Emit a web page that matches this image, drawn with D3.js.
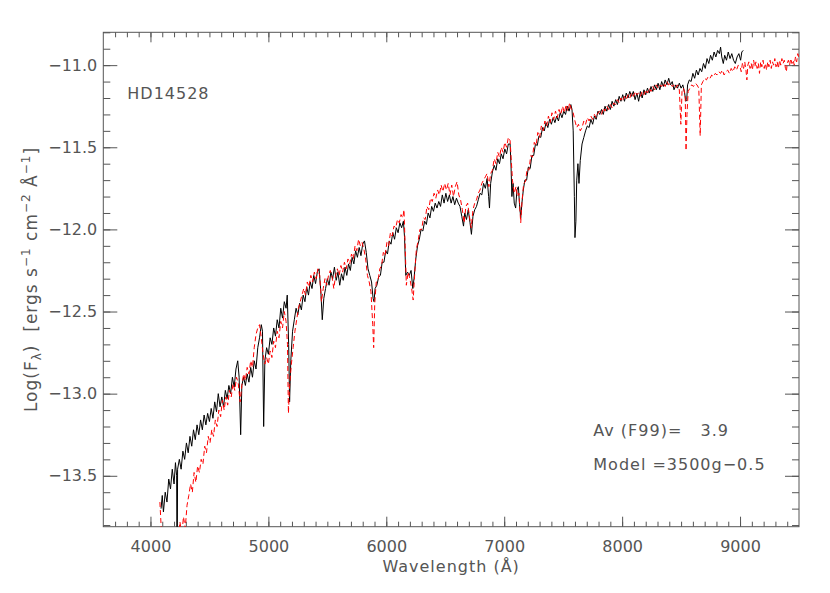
<!DOCTYPE html>
<html>
<head>
<meta charset="utf-8">
<script src="https://cdn.jsdelivr.net/npm/d3@7"></script>
<style>
  body { margin: 0; background: #fff; }
  text { font-family: "DejaVu Sans", sans-serif; fill: #555; }
  .axis text { font-size: 16px; fill: #555; }
  .axis line { stroke: #555; }
  .axis path { display: none; }
  .label { font-size: 16px; letter-spacing: 1px; white-space: pre; }
</style>
</head>
<body>
<div id="vis"></div>
<script>
// Observed spectrum of HD14528 (black): [wavelength A, log flux]
var observed = [
  [4090,-13.70],[4100,-13.62],[4110,-13.72],[4125,-13.60],[4140,-13.66],[4155,-13.52],[4170,-13.58],
  [4185,-13.46],[4200,-13.55],[4212,-13.42],[4222,-13.50],[4226,-14.20],[4230,-13.46],[4245,-13.40],
  [4260,-13.46],[4275,-13.35],[4290,-13.40],[4305,-13.30],[4320,-13.36],[4335,-13.26],[4350,-13.32],
  [4365,-13.22],[4380,-13.28],[4395,-13.19],[4410,-13.25],[4425,-13.16],[4440,-13.22],[4455,-13.13],
  [4470,-13.19],[4485,-13.12],[4500,-13.17],[4515,-13.09],[4530,-13.15],[4545,-13.05],[4560,-13.11],
  [4575,-13.00],[4590,-13.08],[4605,-13.02],[4620,-13.08],[4635,-12.98],[4650,-13.03],[4665,-12.95],
  [4680,-13.00],[4695,-12.90],[4710,-12.96],[4725,-12.85],[4740,-12.80],[4752,-12.90],[4765,-13.25],
  [4775,-12.95],[4790,-12.90],[4805,-12.95],[4820,-12.88],[4835,-12.93],[4850,-12.84],[4865,-12.90],
  [4880,-12.80],[4895,-12.85],[4910,-12.72],[4925,-12.66],[4940,-12.58],[4950,-12.62],[4960,-13.20],
  [4970,-12.80],[4985,-12.72],[5000,-12.76],[5015,-12.66],[5030,-12.70],[5045,-12.60],[5060,-12.65],
  [5075,-12.55],[5090,-12.60],[5105,-12.48],[5120,-12.54],[5135,-12.44],[5150,-12.48],[5160,-12.40],
  [5172,-12.70],[5180,-13.05],[5190,-12.80],[5205,-12.62],[5220,-12.55],[5235,-12.48],[5250,-12.52],
  [5265,-12.45],[5280,-12.49],[5295,-12.40],[5310,-12.44],[5325,-12.35],[5340,-12.40],[5355,-12.32],
  [5370,-12.36],[5385,-12.28],[5400,-12.33],[5415,-12.26],[5430,-12.24],[5445,-12.38],[5457,-12.55],
  [5470,-12.42],[5485,-12.36],[5500,-12.30],[5515,-12.34],[5530,-12.26],[5545,-12.30],[5560,-12.23],
  [5575,-12.31],[5590,-12.26],[5605,-12.34],[5620,-12.27],[5635,-12.31],[5650,-12.23],[5665,-12.28],
  [5680,-12.21],[5695,-12.25],[5710,-12.17],[5725,-12.21],[5740,-12.13],[5755,-12.17],[5770,-12.11],
  [5785,-12.16],[5800,-12.09],[5815,-12.07],[5830,-12.14],[5845,-12.24],[5860,-12.28],[5875,-12.32],
  [5888,-12.42],[5896,-12.44],[5905,-12.36],[5920,-12.34],[5935,-12.29],[5950,-12.28],[5965,-12.20],
  [5980,-12.20],[5995,-12.13],[6010,-12.15],[6025,-12.07],[6040,-12.09],[6055,-12.02],[6070,-12.06],
  [6085,-11.99],[6100,-12.02],[6115,-11.96],[6130,-11.99],[6145,-11.95],[6155,-12.05],[6165,-12.28],
  [6180,-12.26],[6195,-12.28],[6210,-12.25],[6225,-12.36],[6235,-12.30],[6250,-12.18],[6265,-12.10],
  [6280,-12.06],[6295,-12.00],[6310,-12.01],[6325,-11.95],[6340,-11.97],[6355,-11.90],[6370,-11.93],
  [6385,-11.86],[6400,-11.89],[6415,-11.84],[6430,-11.87],[6445,-11.83],[6460,-11.86],[6475,-11.79],
  [6490,-11.84],[6505,-11.78],[6520,-11.83],[6535,-11.79],[6550,-11.84],[6565,-11.80],[6580,-11.85],
  [6595,-11.81],[6610,-11.84],[6625,-11.86],[6640,-11.92],[6655,-11.98],[6665,-11.90],[6680,-11.94],
  [6695,-11.88],[6710,-11.96],[6722,-12.03],[6735,-11.92],[6750,-11.88],[6765,-11.86],[6780,-11.82],
  [6795,-11.78],[6810,-11.79],[6825,-11.72],[6840,-11.75],[6855,-11.69],[6868,-11.80],[6875,-11.87],
  [6885,-11.72],[6900,-11.65],[6915,-11.61],[6930,-11.64],[6945,-11.57],[6960,-11.60],[6975,-11.54],
  [6990,-11.57],[7005,-11.51],[7020,-11.54],[7035,-11.48],[7050,-11.48],[7058,-11.62],[7065,-11.80],
  [7075,-11.72],[7085,-11.84],[7097,-11.87],[7108,-11.76],[7120,-11.74],[7130,-11.85],[7140,-11.93],
  [7150,-11.84],[7162,-11.76],[7175,-11.70],[7190,-11.70],[7205,-11.62],[7220,-11.63],[7235,-11.55],
  [7250,-11.55],[7265,-11.48],[7280,-11.49],[7295,-11.43],[7310,-11.44],[7325,-11.38],[7340,-11.40],
  [7355,-11.35],[7370,-11.38],[7385,-11.33],[7400,-11.36],[7415,-11.32],[7430,-11.35],[7445,-11.31],
  [7460,-11.34],[7475,-11.29],[7490,-11.32],[7505,-11.28],[7520,-11.30],[7535,-11.25],[7550,-11.28],
  [7565,-11.24],[7575,-11.27],[7585,-11.40],[7595,-11.80],[7600,-12.05],[7608,-11.95],[7615,-11.70],
  [7625,-11.60],[7634,-11.72],[7645,-11.58],[7660,-11.48],[7675,-11.44],[7690,-11.40],[7705,-11.37],
  [7720,-11.38],[7735,-11.33],[7750,-11.36],[7765,-11.31],[7780,-11.33],[7795,-11.28],[7810,-11.30],
  [7825,-11.27],[7840,-11.30],[7855,-11.25],[7870,-11.28],[7885,-11.24],[7900,-11.27],[7915,-11.22],
  [7930,-11.25],[7945,-11.21],[7960,-11.24],[7975,-11.19],[7990,-11.22],[8005,-11.18],[8020,-11.22],
  [8035,-11.17],[8050,-11.20],[8065,-11.16],[8080,-11.19],[8095,-11.16],[8110,-11.21],[8125,-11.17],
  [8140,-11.22],[8155,-11.16],[8170,-11.20],[8185,-11.15],[8200,-11.18],[8215,-11.14],[8230,-11.17],
  [8245,-11.13],[8260,-11.16],[8275,-11.12],[8290,-11.15],[8305,-11.11],[8320,-11.15],[8335,-11.10],
  [8350,-11.13],[8365,-11.09],[8380,-11.12],[8395,-11.08],[8410,-11.12],[8425,-11.10],[8440,-11.15],
  [8455,-11.12],[8470,-11.14],[8485,-11.11],[8500,-11.14],[8515,-11.12],[8530,-11.17],[8540,-11.22],
  [8548,-11.21],[8555,-11.12],[8570,-11.09],[8585,-11.10],[8600,-11.05],[8615,-11.08],[8630,-11.03],
  [8645,-11.06],[8660,-11.02],[8675,-11.04],[8690,-10.99],[8705,-11.02],[8720,-10.96],[8735,-10.99],
  [8750,-10.94],[8765,-10.97],[8780,-10.92],[8795,-10.95],[8810,-10.91],[8825,-10.93],[8835,-10.89],
  [8845,-10.95],[8858,-10.99],[8870,-10.94],[8885,-10.97],[8900,-10.92],[8915,-10.96],[8930,-10.93],
  [8945,-10.97],[8960,-10.99],[8975,-10.95],[8990,-10.93],[9005,-10.97],[9015,-10.92],[9027,-10.91]
];

// Reddened model 3500g-0.5 (red, dashed): [wavelength A, log flux]
var model = [
  [4080,-13.66],[4090,-13.80],[4100,-13.90],[4115,-13.85],[4130,-13.95],[4150,-13.88],[4170,-14.00],
  [4190,-13.85],[4205,-13.95],[4220,-13.82],[4235,-13.90],[4250,-13.78],[4265,-13.86],[4280,-13.75],
  [4295,-13.82],[4310,-13.68],[4325,-13.62],[4340,-13.55],[4355,-13.60],[4370,-13.48],[4385,-13.54],
  [4400,-13.44],[4415,-13.48],[4430,-13.40],[4445,-13.43],[4460,-13.32],[4475,-13.36],[4490,-13.26],
  [4505,-13.30],[4520,-13.22],[4535,-13.26],[4550,-13.16],[4565,-13.20],[4580,-13.10],[4595,-13.14],
  [4610,-13.04],[4625,-13.10],[4640,-13.02],[4655,-13.07],[4670,-12.98],[4685,-13.02],[4700,-12.94],
  [4715,-12.98],[4730,-12.90],[4745,-12.94],[4760,-13.05],[4775,-12.95],[4790,-12.88],[4805,-12.92],
  [4820,-12.84],[4835,-12.88],[4850,-12.80],[4865,-12.84],[4880,-12.72],[4895,-12.64],[4910,-12.60],
  [4925,-12.58],[4940,-12.66],[4955,-12.76],[4970,-12.82],[4985,-12.78],[5000,-12.82],[5015,-12.74],
  [5030,-12.78],[5045,-12.68],[5060,-12.72],[5075,-12.62],[5090,-12.66],[5105,-12.56],[5120,-12.60],
  [5135,-12.50],[5150,-12.56],[5162,-12.70],[5170,-13.12],[5180,-12.95],[5195,-12.82],[5210,-12.72],
  [5225,-12.62],[5240,-12.55],[5255,-12.48],[5270,-12.44],[5285,-12.40],[5300,-12.36],[5315,-12.40],
  [5330,-12.32],[5345,-12.35],[5360,-12.28],[5375,-12.32],[5390,-12.26],[5405,-12.30],[5420,-12.24],
  [5435,-12.28],[5450,-12.44],[5465,-12.36],[5480,-12.30],[5495,-12.34],[5510,-12.28],[5525,-12.25],
  [5540,-12.29],[5555,-12.36],[5570,-12.28],[5585,-12.24],[5600,-12.28],[5615,-12.22],[5630,-12.26],
  [5645,-12.20],[5660,-12.24],[5675,-12.18],[5690,-12.21],[5705,-12.15],[5720,-12.18],[5735,-12.10],
  [5750,-12.13],[5765,-12.06],[5780,-12.10],[5795,-12.08],[5810,-12.12],[5825,-12.18],[5840,-12.28],
  [5855,-12.32],[5870,-12.38],[5885,-12.58],[5893,-12.72],[5902,-12.45],[5915,-12.32],[5930,-12.31],
  [5945,-12.24],[5960,-12.22],[5975,-12.14],[5990,-12.16],[6005,-12.08],[6020,-12.10],[6035,-12.02],
  [6050,-12.04],[6065,-11.98],[6080,-11.99],[6095,-11.94],[6110,-11.96],[6125,-11.91],[6140,-11.93],
  [6150,-11.88],[6160,-12.10],[6170,-12.34],[6185,-12.26],[6200,-12.30],[6215,-12.36],[6228,-12.43],
  [6240,-12.28],[6255,-12.12],[6270,-12.07],[6285,-12.00],[6300,-12.00],[6315,-11.93],[6330,-11.94],
  [6345,-11.86],[6360,-11.88],[6375,-11.81],[6390,-11.83],[6405,-11.78],[6420,-11.81],[6435,-11.76],
  [6450,-11.79],[6465,-11.73],[6480,-11.77],[6495,-11.72],[6510,-11.76],[6525,-11.72],[6540,-11.79],
  [6555,-11.73],[6570,-11.80],[6585,-11.74],[6600,-11.71],[6615,-11.79],[6630,-11.82],[6645,-11.88],
  [6660,-11.96],[6675,-11.86],[6690,-11.84],[6705,-11.92],[6720,-11.99],[6735,-11.88],[6750,-11.84],
  [6765,-11.82],[6780,-11.78],[6795,-11.76],[6810,-11.72],[6825,-11.70],[6840,-11.68],[6855,-11.66],
  [6870,-11.74],[6885,-11.66],[6900,-11.64],[6915,-11.57],[6930,-11.60],[6945,-11.53],[6960,-11.56],
  [6975,-11.50],[6990,-11.53],[7005,-11.47],[7020,-11.50],[7035,-11.44],[7050,-11.46],[7060,-11.58],
  [7070,-11.70],[7085,-11.78],[7100,-11.74],[7112,-11.80],[7125,-11.78],[7140,-11.96],[7152,-11.82],
  [7165,-11.72],[7180,-11.71],[7195,-11.63],[7210,-11.64],[7225,-11.55],[7240,-11.56],[7255,-11.47],
  [7270,-11.49],[7285,-11.41],[7300,-11.44],[7315,-11.37],[7330,-11.40],[7345,-11.34],[7360,-11.37],
  [7375,-11.31],[7390,-11.35],[7405,-11.29],[7420,-11.33],[7435,-11.28],[7450,-11.32],[7465,-11.27],
  [7480,-11.30],[7495,-11.25],[7510,-11.29],[7525,-11.24],[7540,-11.28],[7555,-11.23],[7570,-11.27],
  [7585,-11.29],[7600,-11.34],[7615,-11.38],[7630,-11.36],[7645,-11.40],[7660,-11.38],[7675,-11.34],
  [7690,-11.36],[7705,-11.32],[7720,-11.34],[7735,-11.31],[7750,-11.33],[7765,-11.30],[7780,-11.32],
  [7795,-11.29],[7810,-11.28],[7825,-11.30],[7840,-11.26],[7855,-11.28],[7870,-11.25],[7885,-11.27],
  [7900,-11.24],[7915,-11.26],[7930,-11.23],[7945,-11.24],[7960,-11.21],[7975,-11.23],[7990,-11.20],
  [8005,-11.22],[8020,-11.19],[8035,-11.21],[8050,-11.18],[8065,-11.20],[8080,-11.17],[8095,-11.19],
  [8110,-11.16],[8125,-11.18],[8140,-11.17],[8155,-11.19],[8170,-11.16],[8185,-11.18],[8200,-11.15],
  [8215,-11.17],[8230,-11.14],[8245,-11.16],[8260,-11.13],[8275,-11.15],[8290,-11.12],[8305,-11.14],
  [8320,-11.12],[8335,-11.13],[8350,-11.11],[8365,-11.13],[8380,-11.10],[8395,-11.12],[8410,-11.11],
  [8425,-11.13],[8440,-11.12],[8455,-11.14],[8470,-11.12],[8485,-11.15],[8498,-11.36],[8508,-11.16],
  [8520,-11.14],[8535,-11.18],[8542,-11.52],[8550,-11.30],[8560,-11.16],[8575,-11.14],[8590,-11.12],
  [8605,-11.13],[8620,-11.11],[8635,-11.12],[8650,-11.14],[8662,-11.43],[8672,-11.12],[8685,-11.10],
  [8700,-11.08],[8715,-11.09],[8730,-11.07],[8745,-11.08],[8760,-11.06],[8775,-11.07],[8790,-11.05],
  [8805,-11.06],[8820,-11.04],[8835,-11.05],[8850,-11.03],[8865,-11.06],[8880,-11.04],[8895,-11.03],
  [8910,-11.05],[8925,-11.02],[8940,-11.04],[8955,-11.01],[8970,-11.03],[8985,-11.00],[9000,-11.01],
  [9010,-11.04],[9020,-10.99],[9030,-11.02],[9040,-10.98],[9050,-11.03],[9058,-11.09],[9066,-11.00],
  [9075,-10.98],[9085,-11.02],[9095,-10.99],[9105,-11.03],[9115,-10.97],[9125,-11.01],[9135,-10.98],
  [9145,-11.02],[9155,-10.99],[9165,-11.05],[9175,-10.98],[9185,-11.01],[9195,-10.97],[9205,-11.02],
  [9215,-10.99],[9225,-11.03],[9235,-10.98],[9245,-11.01],[9255,-10.97],[9265,-11.02],[9275,-10.98],
  [9285,-11.00],[9295,-10.96],[9305,-11.01],[9315,-10.98],[9325,-11.02],[9335,-10.97],[9345,-11.00],
  [9355,-10.96],[9365,-10.99],[9375,-10.97],[9385,-11.02],[9393,-11.04],[9400,-10.99],[9410,-10.97],
  [9420,-11.00],[9430,-10.96],[9440,-10.99],[9450,-10.97],[9460,-11.00],[9470,-10.95],[9480,-10.98],
  [9490,-10.93],[9497,-10.95]
];

var xMajorTicks = [4000, 5000, 6000, 7000, 8000, 9000];
var yMajorTicks = [-11.0, -11.5, -12.0, -12.5, -13.0, -13.5];
var starName = 'HD14528';
var extinctionText = 'Av (F99)=   3.9';
var modelText = 'Model =3500g\u22120.5';

// Constants for sizing
var width = 830;
var height = 593;
var margin = { left: 103.3, right: 31, top: 32.3, bottom: 66.3 };
var plotW = width - margin.left - margin.right;
var plotH = height - margin.top - margin.bottom;

var x = d3.scaleLinear().domain([3600, 9500]).range([0, plotW]);
var y = d3.scaleLinear().domain([-13.81, -10.8]).range([plotH, 0]);

var svg = d3.select('#vis').append('svg')
  .attr('width', width)
  .attr('height', height);

var g = svg.append('g')
  .attr('transform', 'translate(' + margin.left + ',' + margin.top + ')');

g.append('clipPath').attr('id', 'plotclip')
  .append('rect').attr('width', plotW).attr('height', plotH);

var xMinor = d3.range(3700, 9500, 100);
var yMinor = d3.range(-13.8, -10.79, 0.1).map(function (d) { return +d.toFixed(1); });

// minor ticks, all four sides
g.append('g').attr('class', 'axis')
  .attr('transform', 'translate(0,' + plotH + ')')
  .call(d3.axisBottom(x).tickValues(xMinor).tickSize(-5).tickFormat(''));
g.append('g').attr('class', 'axis')
  .call(d3.axisTop(x).tickValues(xMinor).tickSize(-5).tickFormat(''));
g.append('g').attr('class', 'axis')
  .call(d3.axisLeft(y).tickValues(yMinor).tickSize(-7).tickFormat(''));
g.append('g').attr('class', 'axis')
  .attr('transform', 'translate(' + plotW + ',0)')
  .call(d3.axisRight(y).tickValues(yMinor).tickSize(-7).tickFormat(''));

// major ticks with labels
g.append('g').attr('class', 'axis')
  .attr('transform', 'translate(0,' + plotH + ')')
  .call(d3.axisBottom(x).tickValues(xMajorTicks).tickSize(-10).tickPadding(14).tickFormat(d3.format('d')));
g.append('g').attr('class', 'axis')
  .call(d3.axisTop(x).tickValues(xMajorTicks).tickSize(-10).tickFormat(''));
g.append('g').attr('class', 'axis')
  .call(d3.axisLeft(y).tickValues(yMajorTicks).tickSize(-14).tickPadding(6).tickFormat(d3.format('.1f')));
g.append('g').attr('class', 'axis')
  .attr('transform', 'translate(' + plotW + ',0)')
  .call(d3.axisRight(y).tickValues(yMajorTicks).tickSize(-14).tickFormat(''));

g.append('rect')
  .attr('width', plotW)
  .attr('height', plotH)
  .attr('fill', 'none')
  .attr('stroke', '#555')
  .attr('stroke-width', 1);

var line = d3.line()
  .x(function (d) { return x(d[0]); })
  .y(function (d) { return y(d[1]); });

var lines = g.append('g').attr('clip-path', 'url(#plotclip)');

lines.append('path')
  .datum(observed)
  .attr('d', line)
  .attr('fill', 'none')
  .attr('stroke', '#000')
  .attr('stroke-width', 1);

lines.append('path')
  .datum(model)
  .attr('d', line)
  .attr('fill', 'none')
  .attr('stroke', '#ff0000')
  .attr('stroke-width', 1)
  .attr('stroke-dasharray', '5,3');

// annotations
g.append('text')
  .attr('class', 'label')
  .attr('x', 24)
  .attr('y', 67)
  .text(starName);

g.append('text')
  .attr('class', 'label')
  .attr('x', 490)
  .attr('y', 404)
  .text(extinctionText);

g.append('text')
  .attr('class', 'label')
  .attr('x', 490)
  .attr('y', 438)
  .text(modelText);

// axis titles
svg.append('text')
  .attr('class', 'label')
  .attr('x', margin.left + plotW / 2)
  .attr('y', 572)
  .attr('text-anchor', 'middle')
  .text('Wavelength (\u00c5)');

var yTitle = svg.append('text')
  .attr('class', 'label')
  .attr('transform', 'translate(37,' + (margin.top + plotH / 2) + ') rotate(-90)')
  .attr('text-anchor', 'middle')
  .style('font-size', '17px');

yTitle.append('tspan').text('Log(F');
yTitle.append('tspan').attr('dy', 4).style('font-size', '12px').text('\u03bb');
yTitle.append('tspan').attr('dy', -4).text(')  [ergs s');
yTitle.append('tspan').attr('dy', -7).style('font-size', '12px').text('\u22121');
yTitle.append('tspan').attr('dy', 7).text(' cm');
yTitle.append('tspan').attr('dy', -7).style('font-size', '12px').text('\u22122');
yTitle.append('tspan').attr('dy', 7).text(' \u00c5');
yTitle.append('tspan').attr('dy', -7).style('font-size', '12px').text('\u22121');
yTitle.append('tspan').attr('dy', 7).text(']');
</script>
</body>
</html>
